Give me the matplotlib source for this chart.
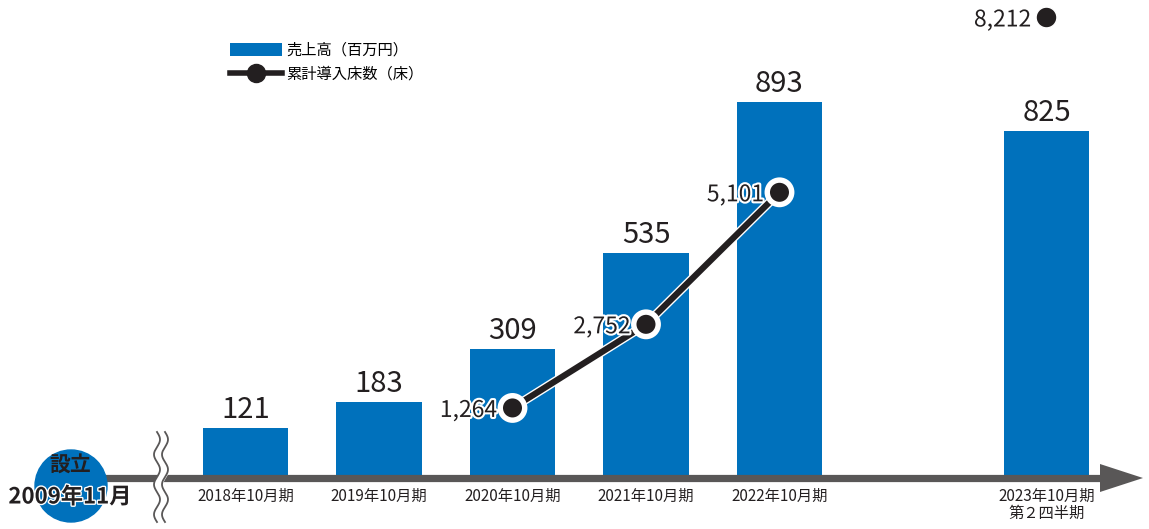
import numpy as np
import matplotlib
matplotlib.use("Agg")
import matplotlib.pyplot as plt
import matplotlib.patheffects as pe
from matplotlib.patches import Patch, Circle
from matplotlib.lines import Line2D

plt.rcParams['font.family'] = ['Noto Sans CJK JP', 'DejaVu Sans']

# data
periods = ['2018年10月期', '2019年10月期', '2020年10月期', '2021年10月期',
           '2022年10月期', '2023年10月期\n第２四半期']
xpos = [0, 1, 2, 3, 4, 6]
sales = [121, 183, 309, 535, 893, 825]          # 売上高(百万円)
beds_x = [2, 3, 4]
beds = [1264, 2752, 5101]                       # 累計導入床数(床)
beds_last_x = 6
beds_last = 8212

BLUE = '#0071bc'
DARK = '#231f20'
GRAY = '#595757'

W, H = 1149, 529
fig = plt.figure(figsize=(W / 100, H / 100), dpi=100)

ax = fig.add_axes([0, 0, 1, 1])
ax.set_xlim(-1.839, 6.768)
ax.set_ylim(-118.5, 1135)
ax.axis('off')

ax.bar(xpos, sales, width=0.637, color=BLUE, zorder=2)
for x, v in zip(xpos, sales):
    ax.annotate(f'{v:,}', (x, v), xytext=(0, 7), textcoords='offset points',
                ha='center', va='baseline', fontsize=21, color=DARK)

ax2 = ax.twinx()
ax2.set_ylim(-890, 8523)
ax2.axis('off')
ax2.plot(beds_x, beds, color=DARK, lw=4.5, marker='o', ms=15,
         mec='white', mew=1.3, mfc=DARK, zorder=3,
         path_effects=[pe.Stroke(linewidth=6.5, foreground='white'), pe.Normal()])
ax2.plot([beds_last_x], [beds_last], 'o', color=DARK, ms=15, mec='white', mew=1)
for x, v in list(zip(beds_x, beds)) + [(beds_last_x, beds_last)]:
    ax2.annotate(f'{v:,}', (x, v), xytext=(-11, 0), textcoords='offset points',
                 ha='right', va='center_baseline', fontsize=16.5, color=DARK,
                 zorder=4, path_effects=[pe.withStroke(linewidth=3, foreground='white')])

# legend
handles = [Patch(facecolor=BLUE, edgecolor='none'),
           Line2D([], [], color=DARK, lw=4, marker='o', ms=13)]
ax.legend(handles, ['売上高（百万円）', '累計導入床数（床）'],
          loc='upper left', bbox_to_anchor=(230 / W, 1 - 42 / H),
          frameon=False, fontsize=11, handlelength=3.4, handleheight=0.95,
          handletextpad=0.3, labelspacing=0.45, borderaxespad=0, borderpad=0)

# decorations in pixel coordinates
deco = fig.add_axes([0, 0, 1, 1])
deco.set_xlim(0, W)
deco.set_ylim(H, 0)
deco.axis('off')

deco.plot([100, 1105], [478, 478], color=GRAY, lw=5.2, solid_capstyle='butt')
deco.fill([1100, 1143, 1100], [464, 478, 492], color=GRAY, lw=0)

deco.add_patch(Circle((71, 486), 36, color=BLUE, zorder=3))
deco.text(70, 464, '設立', ha='center', va='center', fontsize=15,
          fontweight='bold', color=DARK, zorder=4)
deco.text(70, 497, '2009年11月', ha='center', va='center', fontsize=16,
          fontweight='bold', color=DARK, zorder=4,
          path_effects=[pe.withStroke(linewidth=2, foreground='white')])

yy = np.linspace(432, 522, 200)
wav = 3 * np.sin((yy - 432) / 30 * 2 * np.pi)
deco.fill_betweenx(yy, 157 + wav, 165 + wav, color='white', zorder=3)
deco.plot(157 + wav, yy, color=GRAY, lw=1.3, zorder=4)
deco.plot(165 + wav, yy, color=GRAY, lw=1.3, zorder=4)

for x, lab in zip(xpos, periods):
    px = 245.5 + x * 133.5
    deco.text(px, 488, lab, ha='center', va='top', fontsize=11,
              color=DARK, linespacing=1.0)

fig.savefig('out.png', dpi=100)
